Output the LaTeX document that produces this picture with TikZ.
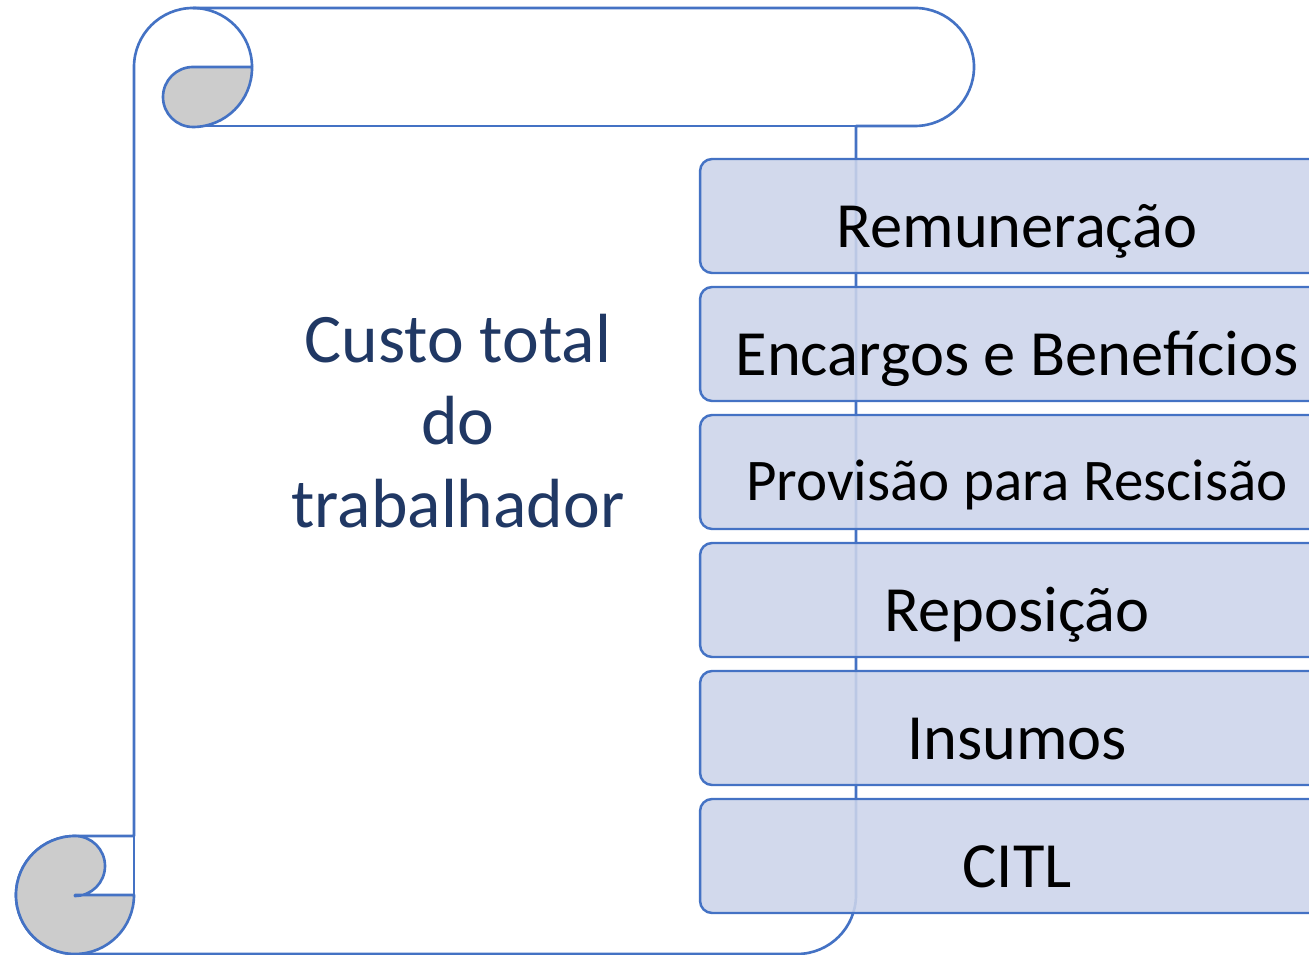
\documentclass[tikz,border=0pt]{standalone}
\usepackage{fontspec}
\setmainfont{Carlito}
\usepackage{tikz}
\usetikzlibrary{positioning}

\definecolor{scrollblue}{RGB}{68,114,196}
\definecolor{curlgray}{RGB}{204,204,204}
\definecolor{itemfill}{RGB}{204,212,234}
\definecolor{titleblue}{RGB}{32,56,100}

\tikzset{
  scrollline/.style={draw=scrollblue, line width=1.5pt, line join=round},
  itembox/.style={draw=scrollblue, line width=1.4pt, fill=itemfill, fill opacity=.88,
    text opacity=1, rounded corners=.24cm, minimum width=12.68cm, minimum height=2.28cm,
    inner sep=0pt, text height=36.3pt, text depth=0pt, font=\fontsize{36.7}{44}\selectfont},
}

\begin{document}
\begin{tikzpicture}[x=.02cm, y=-.02cm]
  \useasboundingbox (0,0) rectangle (1309,955);
  % scroll body
  \path[scrollline, fill=white] (134,67) arc (180:270:59) -- (915,8) arc (270:450:59)
    -- (856,126) -- (856,895) arc (0:90:59) -- (75,954) arc (90:270:59) -- (134,836) -- cycle;
  \draw[scrollline] (915,126) -- (193,126);
  \draw[scrollline] (193,8) arc (270:360:59);
  \draw[scrollline] (134,836) -- (134,895);
  % curls
  \path[scrollline, fill=curlgray] (252,67) -- (193,67) arc (270:90:30) arc (90:0:59) -- cycle;
  \path[scrollline, fill=curlgray] (75,895) -- (134,895) arc (0:270:59) arc (270:450:30) -- cycle;
  \node[align=center, text=titleblue, font=\fontsize{39.6}{47}\selectfont] at (458,421) (title) {Custo total\\do\\trabalhador};
  % items
  \node[itembox] at (1017,216) (rem) {Remuneração};
  \node[itembox] at (1017,344) (enc) {Encargos e Benefícios};
  \node[itembox, text height=32.9pt, font=\fontsize{33.6}{40}\selectfont] at (1017,472) (prov) {Provisão para Rescisão};
  \node[itembox] at (1017,600) (rep) {Reposição};
  \node[itembox] at (1017,728) (ins) {Insumos};
  \node[itembox] at (1017,856) (citl) {CITL};
\end{tikzpicture}
\end{document}
